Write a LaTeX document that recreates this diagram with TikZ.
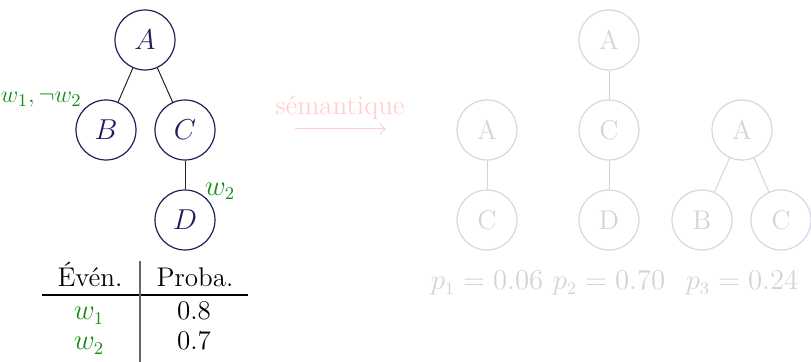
\documentclass[tikz,border=0pt]{standalone}
\usetikzlibrary{arrows.meta}
\definecolor{navy}{RGB}{30,30,92}
\definecolor{leaf}{RGB}{24,140,24}
\definecolor{fadeline}{RGB}{214,214,232}
\definecolor{fadetext}{RGB}{212,212,216}
\definecolor{fadepink}{RGB}{255,208,208}
\definecolor{fadeedge}{RGB}{212,212,216}

\begin{document}
\begin{tikzpicture}[x=0.5pt,y=-0.5pt,
  every node/.style={font=\fontsize{13.5}{16}\selectfont},
  vertex/.style={circle,draw=navy,text=navy,line width=0.6pt,minimum size=30pt,inner sep=0pt},
  ghost/.style={circle,draw=fadeline,text=fadetext,line width=0.6pt,minimum size=30pt,inner sep=0pt},
  link/.style={draw=black!85,line width=0.5pt},
  ghostlink/.style={draw=fadeedge,line width=0.5pt},
  event/.style={text=leaf},
  cell/.style={anchor=base},
]
\useasboundingbox (0,0) rectangle (811,362);

% source tree
\node[vertex] (a) at (145,40) {$A$};
\node[vertex] (b) at (106,130) {$B$};
\node[vertex] (c) at (185,130) {$C$};
\node[vertex] (d) at (185,220) {$D$};
\draw[link] (a) -- (b);
\draw[link] (a) -- (c);
\draw[link] (c) -- (d);
\node[event,anchor=east,inner sep=0pt,font=\fontsize{13}{15}\selectfont] (lb) at (82,100) {$w_1, \neg w_2$};
\node[event] (ld) at (220,191) {$w_2$};

% event probability table
\node[cell] (h1) at (90,287) {Évén.};
\node[cell] (h2) at (195,287) {Proba.};
\node[cell,event] (e1) at (89,320) {$w_1$};
\node[cell] (v1) at (194,320) {0.8};
\node[cell,event] (e2) at (89,350) {$w_2$};
\node[cell] (v2) at (194,350) {0.7};
\draw[black,line width=0.6pt] (42,295) -- (248,295);
\draw[black!60,line width=0.6pt] (140,261) -- (140,362);

% semantics arrow
\node[text=fadepink] (sem) at (340,108) {sémantique};
\coordinate (s0) at (295,129);
\coordinate (s1) at (386,129);
\draw[fadepink,line width=0.5pt,-{To[length=3pt]}] (s0) -- (s1);

% resulting trees
\node[ghost] (g1a) at (487,130) {A};
\node[ghost] (g1c) at (487,220) {C};
\draw[ghostlink] (g1a) -- (g1c);

\node[ghost] (g2a) at (609,40) {A};
\node[ghost] (g2c) at (609,130) {C};
\node[ghost] (g2d) at (609,220) {D};
\draw[ghostlink] (g2a) -- (g2c);
\draw[ghostlink] (g2c) -- (g2d);

\node[ghost] (g3a) at (742,130) {A};
\node[ghost] (g3b) at (702,220) {B};
\node[ghost] (g3c) at (781,220) {C};
\draw[ghostlink] (g3a) -- (g3b);
\draw[ghostlink] (g3a) -- (g3c);

\node[cell,text=fadetext] (p1) at (487,290) {$p_1 = 0.06$};
\node[cell,text=fadetext] (p2) at (609,290) {$p_2 = 0.70$};
\node[cell,text=fadetext] (p3) at (742,290) {$p_3 = 0.24$};
\end{tikzpicture}
\end{document}
